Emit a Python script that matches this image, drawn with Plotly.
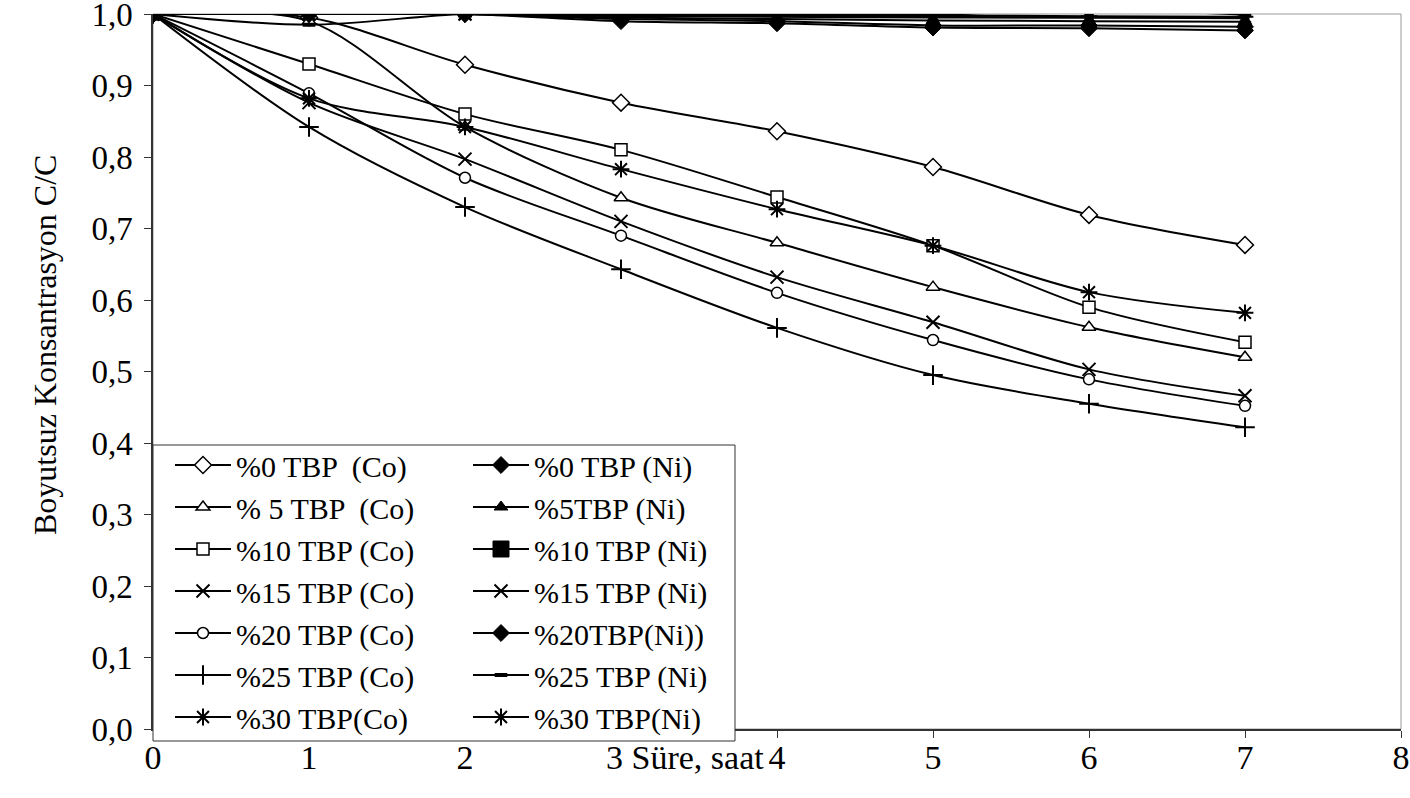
import plotly.graph_objects as go

# ---- data ----
hours = [0, 1, 2, 3, 4, 5, 6, 7]

co_0 = [1.0, 0.995, 0.929, 0.876, 0.836, 0.786, 0.719, 0.677]
co_5 = [1.0, 0.990, 0.842, 0.743, 0.680, 0.618, 0.562, 0.520]
co_10 = [1.0, 0.930, 0.860, 0.810, 0.744, 0.676, 0.590, 0.541]
co_15 = [1.0, 0.876, 0.797, 0.710, 0.632, 0.569, 0.503, 0.466]
co_20 = [1.0, 0.889, 0.771, 0.690, 0.610, 0.544, 0.489, 0.452]
co_25 = [1.0, 0.842, 0.730, 0.643, 0.561, 0.495, 0.455, 0.422]
co_30 = [1.0, 0.882, 0.842, 0.783, 0.727, 0.676, 0.611, 0.582]

ni_0 = [1.0, 1.0, 1.0, 0.990, 0.987, 0.981, 0.980, 0.977]
ni_5 = [1.0, 1.0, 1.0, 0.995, 0.993, 0.991, 0.990, 0.989]
ni_10 = [1.0, 1.0, 1.0, 0.998, 0.997, 0.996, 0.995, 0.995]
ni_15 = [1.0, 1.0, 1.0, 0.997, 0.996, 0.995, 0.995, 0.994]
ni_20 = [1.0, 1.0, 1.0, 0.993, 0.990, 0.984, 0.984, 0.982]
ni_25 = [1.0, 0.985, 1.0, 0.999, 0.999, 0.999, 1.006, 0.999]
ni_30 = [1.0, 1.0, 1.0, 0.999, 0.998, 0.998, 0.997, 0.996]

co_names = ["%0 TBP  (Co)", "% 5 TBP  (Co)", "%10 TBP (Co)", "%15 TBP (Co)",
            "%20 TBP (Co)", "%25 TBP (Co)", "%30 TBP(Co)"]
ni_names = ["%0 TBP (Ni)", "%5TBP (Ni)", "%10 TBP (Ni)", "%15 TBP (Ni)",
            "%20TBP(Ni))", "%25 TBP (Ni)", "%30 TBP(Ni)"]

x_ticks = [0, 1, 2, 3, 4, 5, 6, 7, 8]
x_tick_text = ["0", "1", "2", "", "4", "5", "6", "7", "8"]
y_ticks = [0.0, 0.1, 0.2, 0.3, 0.4, 0.5, 0.6, 0.7, 0.8, 0.9, 1.0]
y_title = "Boyutsuz Konsantrasyon C/C"
x_title = "3 Süre, saat"

# ---- styles ----
co_values = [co_0, co_5, co_10, co_15, co_20, co_25, co_30]
ni_values = [ni_0, ni_5, ni_10, ni_15, ni_20, ni_25, ni_30]

co_styles = [
    dict(symbol="diamond", size=13, color="white", lw=1.5),
    dict(symbol="triangle-up", size=12, color="white", lw=1.5),
    dict(symbol="square", size=12, color="white", lw=1.5),
    dict(symbol="x-thin", size=13, color="black", lw=2),
    dict(symbol="circle", size=11, color="white", lw=1.5),
    dict(symbol="cross-thin", size=14, color="black", lw=2),
    dict(symbol="asterisk", size=14, color="black", lw=2),
]
# chart marker size and legend marker size
ni_styles = [
    dict(symbol="diamond", size=13, lsize=13, color="black", lw=1),
    dict(symbol="triangle-up", size=12, lsize=12, color="black", lw=1),
    dict(symbol="square", size=8, lsize=17, color="black", lw=1),
    dict(symbol="x-thin", size=13, lsize=13, color="black", lw=2),
    dict(symbol="diamond", size=13, lsize=13, color="black", lw=1),
    dict(symbol="line-ew", size=9, lsize=9, color="black", lw=4),
    dict(symbol="asterisk", size=14, lsize=14, color="black", lw=2),
]

FONT = "Liberation Serif, Times New Roman, serif"

fig = go.Figure()

def add(name, vals, st, legend):
    size = st["size"]
    lsize = st.get("lsize", size)
    separate_legend = lsize != size
    fig.add_trace(go.Scatter(
        x=hours, y=vals, name=name, legend=legend,
        mode="lines+markers", showlegend=not separate_legend,
        line=dict(color="black", width=2, shape="spline", smoothing=0.9),
        marker=dict(symbol=st["symbol"], size=size, color=st["color"],
                    line=dict(color="black", width=st["lw"])),
    ))
    if separate_legend:
        # legend-only entry with the larger legend marker
        fig.add_trace(go.Scatter(
            x=[None], y=[None], name=name, legend=legend, mode="lines+markers",
            line=dict(color="black", width=2),
            marker=dict(symbol=st["symbol"], size=lsize, color=st["color"],
                        line=dict(color="black", width=st["lw"])),
        ))

for n, v, s in zip(co_names, co_values, co_styles):
    add(n, v, s, "legend")
for n, v, s in zip(ni_names, ni_values, ni_styles):
    add(n, v, s, "legend2")

# plot frame (top/right grey)
fig.add_shape(type="rect", xref="paper", yref="paper", x0=0, x1=1, y0=0, y1=1,
              line=dict(color="#9a9a9a", width=1), layer="below")

# legend box
fig.add_shape(type="rect", xref="paper", yref="paper",
              x0=0, x1=(735 - 153) / 1248, y0=(729 - 741) / 715, y1=(729 - 445) / 715,
              line=dict(color="#333333", width=1), fillcolor="white", layer="above")

leg_common = dict(bgcolor="rgba(0,0,0,0)", borderwidth=0,
                  font=dict(family=FONT, size=30, color="black"),
                  itemwidth=56, yanchor="top", xanchor="left", tracegroupgap=0)
fig.update_layout(
    legend=dict(x=(170 - 153) / 1248, y=(729 - 439) / 715, **leg_common),
    legend2=dict(x=(468 - 153) / 1248, y=(729 - 439) / 715, **leg_common),
)

fig.update_xaxes(range=[0, 8], tickvals=x_ticks, ticktext=x_tick_text,
                 ticks="outside", ticklen=7, automargin=False,
                 ticklabeloverflow="allow", ticklabelstandoff=-10,
                 tickcolor="#333", showline=True, linecolor="#333", linewidth=1.5,
                 showgrid=False, zeroline=False,
                 tickfont=dict(family=FONT, size=34, color="black"))
fig.update_yaxes(range=[0, 1], tickvals=y_ticks, tickformat=".1f", ticks="outside",
                 ticklen=7, automargin=False, ticklabeloverflow="allow",
                 tickcolor="#333", showline=True, linecolor="#333", linewidth=1.5,
                 showgrid=False, zeroline=False, ticklabelstandoff=5,
                 tickfont=dict(family=FONT, size=33, color="black"))

fig.add_annotation(text=y_title, xref="paper", yref="paper",
                   x=(45 - 153) / 1248, y=(729 - 345) / 715, textangle=-90,
                   showarrow=False, xanchor="center", yanchor="middle",
                   font=dict(family=FONT, size=32, color="black"))
fig.add_annotation(text=x_title, xref="x", yref="paper",
                   x=(604 - 153) / 156, y=(729 - 757) / 715, showarrow=False,
                   xanchor="left", yanchor="middle",
                   font=dict(family=FONT, size=34, color="black"))

fig.update_layout(
    width=1410, height=798,
    margin=dict(l=153, r=9, t=14, b=69),
    paper_bgcolor="white", plot_bgcolor="white",
    separators=", ",
    showlegend=True,
)

fig.write_html("out.html", config={"displayModeBar": False},
               post_script="document.body.style.margin='0px';")
